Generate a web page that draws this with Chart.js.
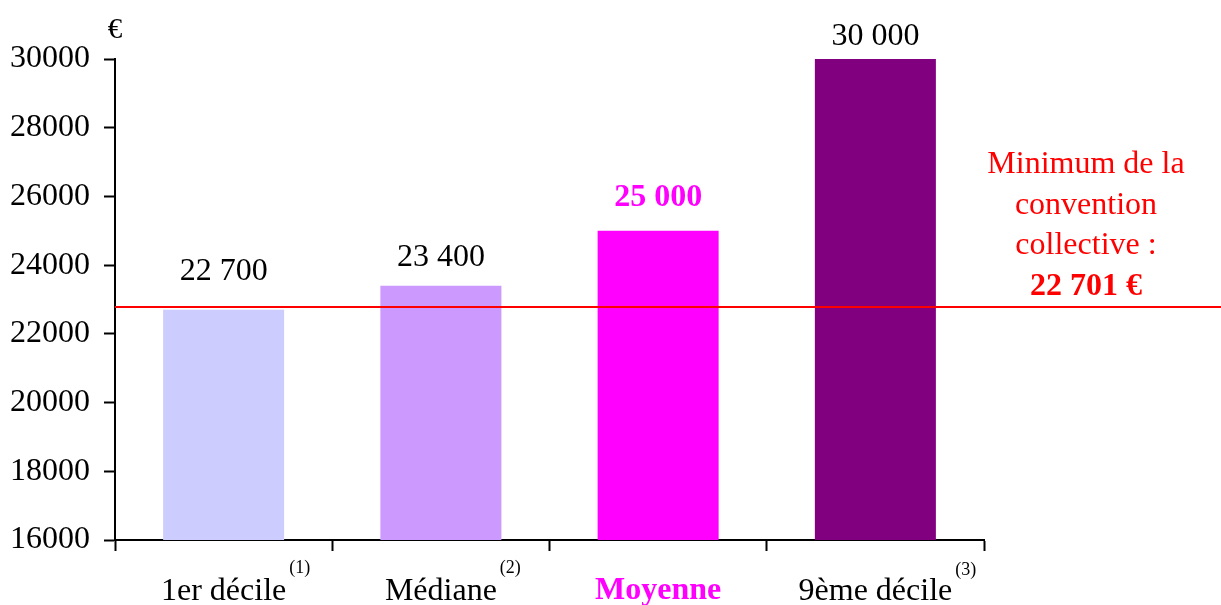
<!DOCTYPE html>
<html>
<head>
<meta charset="utf-8">
<script src="https://cdn.jsdelivr.net/npm/chart.js@4"></script>
<style>
    html, body { margin: 0; padding: 0; background: #fff; }
    #wrap { width: 1221px; height: 605px; }
</style>
</head>
<body>
<div id="wrap"><canvas id="salaryChart" width="1221" height="605"></canvas></div>
<script>
// Chart data
const categories = ['1er décile', 'Médiane', 'Moyenne', '9ème décile'];
const footnotes = ['(1)', '(2)', '', '(3)'];
const salaries = [22700, 23400, 25000, 30000];
const valueLabels = ['22 700', '23 400', '25 000', '30 000'];
const yMin = 16000;
const yMax = 30000;
const yStep = 2000;
// Minimum of the collective agreement (line as drawn in the picture)
const minimumLine = 22790;
const minimumText = ['Minimum de la', 'convention', 'collective :', '22 701 €'];

const barColors = ['#CCCCFF', '#CC99FF', '#FF00FF', '#800080'];
const SERIF = '"Liberation Serif", "Times New Roman", serif';
const labelGap = [30, 20, 25, 14];

// Draw value labels, the red minimum line, its note, the € unit and footnotes
const annotations = {
    id: 'annotations',
    afterDatasetsDraw(chart) {
        const ctx = chart.ctx;
        const xs = chart.scales.x;
        const ys = chart.scales.y;
        const area = chart.chartArea;
        ctx.save();

        // Value labels above bars
        ctx.textAlign = 'center';
        ctx.textBaseline = 'alphabetic';
        salaries.forEach((v, i) => {
            const highlight = i === 2;
            ctx.font = `${highlight ? 'bold ' : ''}32px ${SERIF}`;
            ctx.fillStyle = highlight ? '#FF00FF' : '#000';
            ctx.fillText(valueLabels[i], xs.getPixelForValue(i), ys.getPixelForValue(v) - labelGap[i]);
        });

        // Red minimum line
        const ly = Math.round(ys.getPixelForValue(minimumLine));
        ctx.strokeStyle = '#FF0000';
        ctx.lineWidth = 2;
        ctx.beginPath();
        ctx.moveTo(area.left, ly);
        ctx.lineTo(chart.width, ly);
        ctx.stroke();

        // Note on the right
        ctx.fillStyle = '#FF0000';
        const cx = area.right + 102;
        minimumText.forEach((t, i) => {
            const last = i === minimumText.length - 1;
            ctx.font = `${last ? 'bold ' : ''}32px ${SERIF}`;
            ctx.fillText(t, cx, ly - 12 - (minimumText.length - 1 - i) * 40.7);
        });

        // Unit on top of the y axis
        ctx.fillStyle = '#000';
        ctx.font = `29px ${SERIF}`;
        ctx.fillText('€', area.left, area.top - 21);

        // Footnote marks after category labels
        ctx.textAlign = 'left';
        categories.forEach((c, i) => {
            if (!footnotes[i]) return;
            ctx.font = `32px ${SERIF}`;
            const w = ctx.measureText(c).width;
            ctx.font = `18px ${SERIF}`;
            ctx.fillText(footnotes[i], xs.getPixelForValue(i) + w / 2 + 3, i === 3 ? 575 : 573);
        });

        ctx.restore();
    }
};

document.addEventListener('DOMContentLoaded', () => {
    const ctx = document.getElementById('salaryChart');
    new Chart(ctx, {
        type: 'bar',
        data: {
            labels: categories,
            datasets: [{
                data: salaries,
                backgroundColor: barColors,
                borderWidth: 0,
                categoryPercentage: 1,
                barPercentage: 0.557
            }]
        },
        options: {
            responsive: false,
            animation: false,
            devicePixelRatio: 1,
            layout: { padding: { top: 59, right: 237, left: 0, bottom: 0 } },
            plugins: {
                legend: { display: false },
                tooltip: { enabled: false }
            },
            scales: {
                x: {
                    grid: {
                        offset: true,
                        drawOnChartArea: false,
                        drawTicks: true,
                        tickLength: 11,
                        tickColor: '#000',
                        tickWidth: 2
                    },
                    border: { color: '#000', width: 2 },
                    ticks: {
                        padding: 21,
                        maxRotation: 0,
                        autoSkip: false,
                        color: (c) => c.index === 2 ? '#FF00FF' : '#000',
                        font: (c) => ({ family: SERIF, size: 32, weight: c.index === 2 ? 'bold' : 'normal' })
                    },
                    afterFit: (scale) => { scale.height = 65; }
                },
                y: {
                    min: yMin,
                    max: yMax,
                    grid: {
                        drawOnChartArea: false,
                        drawTicks: true,
                        tickLength: 11,
                        tickColor: '#000',
                        tickWidth: 2
                    },
                    border: { color: '#000', width: 2 },
                    ticks: {
                        stepSize: yStep,
                        padding: 14,
                        color: '#000',
                        font: { family: SERIF, size: 32 },
                        callback: (v) => String(v)
                    },
                    afterFit: (scale) => { scale.width = 115; }
                }
            }
        },
        plugins: [annotations]
    });
});
</script>
</body>
</html>
